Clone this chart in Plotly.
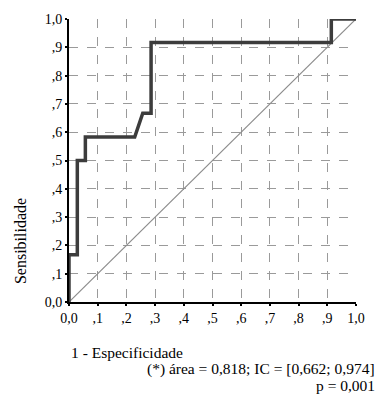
import plotly.graph_objects as go

# ROC curve data (1 - specificity, sensitivity)
fpr = [0.0, 0.0, 0.029, 0.029, 0.057, 0.057, 0.229, 0.257, 0.286, 0.286, 0.914, 0.914, 1.0]
tpr = [0.0, 0.167, 0.167, 0.5, 0.5, 0.583, 0.583, 0.667, 0.667, 0.917, 0.917, 1.0, 1.0]
ref_x = [0.0, 1.0]
ref_y = [0.0, 1.0]
tick_vals = [0.0, 0.1, 0.2, 0.3, 0.4, 0.5, 0.6, 0.7, 0.8, 0.9, 1.0]
tick_text = ["0,0", ",1", ",2", ",3", ",4", ",5", ",6", ",7", ",8", ",9", "1,0"]

font = "Liberation Serif"

fig = go.Figure()
fig.add_trace(go.Scatter(x=ref_x, y=ref_y, mode="lines",
                         line=dict(color="#8c8c8c", width=1.2),
                         hoverinfo="skip", cliponaxis=False))
fig.add_trace(go.Scatter(x=fpr, y=tpr, mode="lines",
                         line=dict(color="#3c3c3c", width=3.5),
                         cliponaxis=False))

axis_common = dict(
    range=[0, 1], tickvals=tick_vals, ticktext=tick_text,
    showgrid=True, gridcolor="#9a9a9a", griddash="dash", gridwidth=1,
    showline=True, linecolor="black", linewidth=2,
    ticks="outside", ticklen=2, tickwidth=2, tickcolor="black",
    zeroline=False, tickfont=dict(family=font, size=14, color="black"),
    ticklabeloverflow="allow", fixedrange=True,
)
fig.update_xaxes(**axis_common)
fig.update_yaxes(**axis_common)

fig.update_layout(
    width=380, height=398,
    margin=dict(l=69, r=24, t=14, b=96),
    plot_bgcolor="white", paper_bgcolor="white",
    showlegend=False,
    font=dict(family=font, size=14, color="black"),
    annotations=[
        dict(text="Sensibilidade", xref="paper", yref="paper",
             x=-0.171, y=0.215, textangle=-90, showarrow=False,
             font=dict(family=font, size=16), xanchor="center", yanchor="middle"),
        dict(text="1 - Especificidade", xref="paper", yref="paper",
             x=0.0, y=-0.180, showarrow=False, xanchor="left", yanchor="middle",
             font=dict(family=font, size=15.5)),
        dict(text="(*) área = 0,818; IC = [0,662; 0,974]", xref="paper", yref="paper",
             x=1.073, y=-0.236, showarrow=False, xanchor="right", yanchor="middle",
             font=dict(family=font, size=15.5)),
        dict(text="p = 0,001", xref="paper", yref="paper",
             x=1.073, y=-0.295, showarrow=False, xanchor="right", yanchor="middle",
             font=dict(family=font, size=15.5)),
    ],
)

fig.write_html("out.html", config={"displayModeBar": False},
               post_script="document.body.style.margin='0';document.body.style.overflow='hidden';")
